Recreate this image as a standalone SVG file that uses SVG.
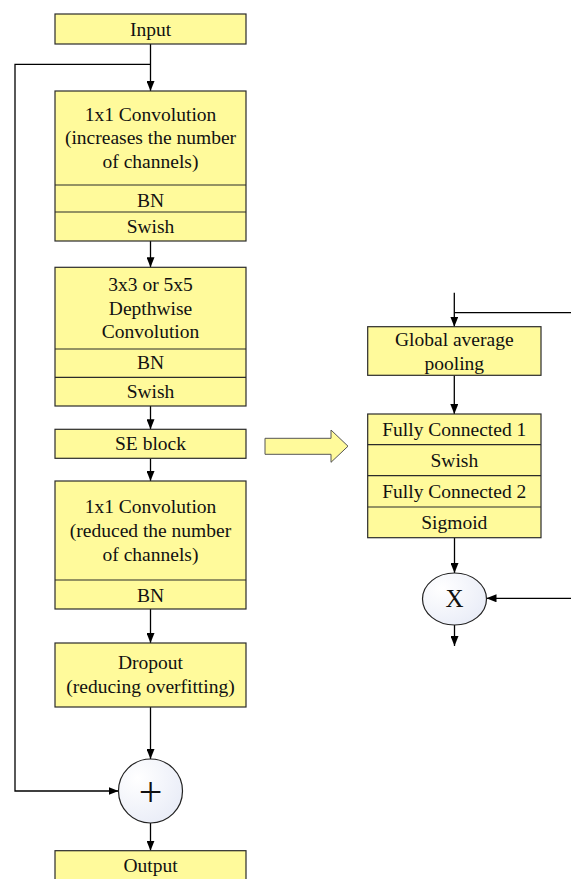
<svg xmlns="http://www.w3.org/2000/svg" width="571" height="879" viewBox="0 0 571 879">
<style>
.box{fill:#FFFA9B;stroke:#2b2b2b;stroke-width:1.2}
.div{stroke:#2b2b2b;stroke-width:1.2}
.t{font-family:Liberation Serif, Times New Roman, serif;font-size:19.5px;fill:#111;text-anchor:middle}
.c{fill:none;stroke:#000;stroke-width:1.3}
.op{fill:url(#g);stroke:#222;stroke-width:1.2}
</style>
<defs>
<marker id="ah" viewBox="0 0 10 8" refX="10" refY="4" markerWidth="10" markerHeight="8" markerUnits="userSpaceOnUse" orient="auto">
<path d="M0,0 L10,4 L0,8 z" fill="#000"/>
</marker>
<radialGradient id="g" cx="0.3" cy="0.3" r="0.9">
<stop offset="0" stop-color="#ffffff"/>
<stop offset="1" stop-color="#e6eaf6"/>
</radialGradient>
</defs>
<rect width="571" height="879" fill="#fff"/>

<g id="connectors">
<line class="c" x1="150.5" y1="44" x2="150.5" y2="91" marker-end="url(#ah)"/>
<polyline class="c" points="150.5,64.3 15,64.3 15,791 118.5,791" marker-end="url(#ah)"/>
<line class="c" x1="150.5" y1="241" x2="150.5" y2="267.3" marker-end="url(#ah)"/>
<line class="c" x1="150.5" y1="406" x2="150.5" y2="429.3" marker-end="url(#ah)"/>
<line class="c" x1="150.5" y1="458.3" x2="150.5" y2="481" marker-end="url(#ah)"/>
<line class="c" x1="150.5" y1="609" x2="150.5" y2="643" marker-end="url(#ah)"/>
<line class="c" x1="150.5" y1="707" x2="150.5" y2="759" marker-end="url(#ah)"/>
<line class="c" x1="150.5" y1="823" x2="150.5" y2="850.7" marker-end="url(#ah)"/>
<line class="c" x1="454.3" y1="292.7" x2="454.3" y2="326.7" marker-end="url(#ah)"/>
<line class="c" x1="454.3" y1="312.7" x2="571" y2="312.7"/>
<line class="c" x1="454.3" y1="375.3" x2="454.3" y2="414" marker-end="url(#ah)"/>
<line class="c" x1="454.5" y1="537.7" x2="454.5" y2="573" marker-end="url(#ah)"/>
<line class="c" x1="571" y1="598.3" x2="486.5" y2="598.3" marker-end="url(#ah)"/>
<line class="c" x1="454.5" y1="625" x2="454.5" y2="646" marker-end="url(#ah)"/>
</g>

<g font-family="Liberation Serif, Times New Roman, serif" font-size="19.5" text-anchor="middle" fill="#111">
<g id="input">
<rect class="box" x="55" y="14" width="191" height="30"/>
<text x="150.5" y="35.5">Input</text>
</g>

<g id="conv1">
<rect class="box" x="55" y="91" width="191" height="150"/>
<line class="div" x1="55" y1="185" x2="246" y2="185"/>
<line class="div" x1="55" y1="212" x2="246" y2="212"/>
<text x="150.5" y="120.7">1x1 Convolution</text>
<text x="150.5" y="144">(increases the number</text>
<text x="150.5" y="167.7">of channels)</text>
<text x="150.5" y="206.7">BN</text>
<text x="150.5" y="232.5">Swish</text>
</g>

<g id="dwconv">
<rect class="box" x="55" y="267.3" width="191" height="138.7"/>
<line class="div" x1="55" y1="349" x2="246" y2="349"/>
<line class="div" x1="55" y1="377.3" x2="246" y2="377.3"/>
<text x="150.5" y="291">3x3 or 5x5</text>
<text x="150.5" y="315">Depthwise</text>
<text x="150.5" y="338.3">Convolution</text>
<text x="150.5" y="369.3">BN</text>
<text x="150.5" y="397.5">Swish</text>
</g>

<g id="se">
<rect class="box" x="55" y="429.3" width="191" height="29"/>
<text x="150.5" y="449.5">SE block</text>
</g>

<g id="conv3">
<rect class="box" x="55" y="481" width="191" height="128"/>
<line class="div" x1="55" y1="580" x2="246" y2="580"/>
<text x="150.5" y="513.3">1x1 Convolution</text>
<text x="150.5" y="536.7">(reduced the number</text>
<text x="150.5" y="560.7">of channels)</text>
<text x="150.5" y="602">BN</text>
</g>

<g id="dropout">
<rect class="box" x="55" y="643" width="191" height="64"/>
<text x="150.5" y="668.5">Dropout</text>
<text x="150.5" y="693">(reducing overfitting)</text>
</g>

<g id="add">
<circle class="op" cx="150.5" cy="791" r="32"/>
<text x="150.5" y="806" font-size="42">+</text>
</g>

<g id="output">
<rect class="box" x="55" y="850.7" width="191" height="40"/>
<text x="150.5" y="872">Output</text>
</g>

<g id="bigarrow">
<path d="M265,438.3 L331,438.3 L331,430 L348,446.2 L331,462.3 L331,454.3 L265,454.3 Z" fill="#FFFA9B" stroke="#555" stroke-width="1"/>
</g>

<g id="gap">
<rect class="box" x="367.7" y="326.7" width="173.3" height="48.6"/>
<text x="454.3" y="346">Global average</text>
<text x="454.3" y="370">pooling</text>
</g>

<g id="fc">
<rect class="box" x="367.7" y="414" width="173.3" height="123.7"/>
<line class="div" x1="367.7" y1="444.7" x2="541" y2="444.7"/>
<line class="div" x1="367.7" y1="475.7" x2="541" y2="475.7"/>
<line class="div" x1="367.7" y1="507" x2="541" y2="507"/>
<text x="454.3" y="436">Fully Connected 1</text>
<text x="454.3" y="467">Swish</text>
<text x="454.3" y="497.5">Fully Connected 2</text>
<text x="454.3" y="528.5">Sigmoid</text>
</g>

<g id="mul">
<ellipse class="op" cx="454.5" cy="599" rx="32" ry="26"/>
<text x="454.5" y="607" font-size="25">X</text>
</g>
</g>
</svg>
